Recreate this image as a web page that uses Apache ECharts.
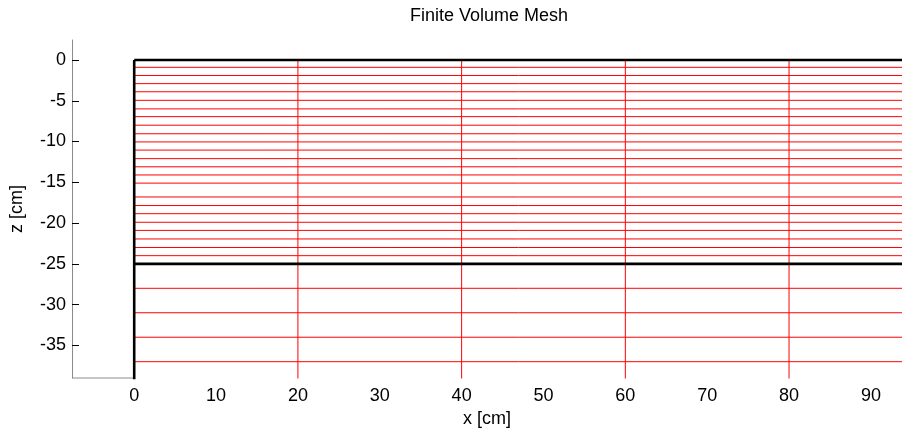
<!DOCTYPE html>
<html>
<head>
<meta charset="utf-8">
<title>Finite Volume Mesh</title>
<script src="https://cdn.jsdelivr.net/npm/echarts@6/dist/echarts.min.js"></script>
<style>
  html, body { margin: 0; padding: 0; background: #fff; }
  #chart { width: 902px; height: 437px; }
</style>
</head>
<body>
<div id="chart"></div>
<script>
// Axis tick labels
const xTickValues = [0, 10, 20, 30, 40, 50, 60, 70, 80, 90];
const zTickValues = [0, -5, -10, -15, -20, -25, -30, -35];

// Visible axis window [cm]
const xRange = [-7.6, 93.8];
const zRange = [-39, 2.45];

// Mesh geometry [cm]
const xFaces = [0, 20, 40, 60, 80, 100];          // vertical cell faces
const zFineFaces = [-0.9, -1.9, -2.9, -3.9, -4.95, -6.0, -6.95, -8.0, -9.05,
  -10.05, -11.05, -12.1, -13.1, -14.1, -15.1, -16.8, -17.85, -18.85, -19.9,
  -20.9, -21.95, -23.0, -24.0];                     // upper layer faces
const zCoarseFaces = [-28, -31, -34, -37];         // lower layer faces
const zLayerBounds = [0, -25];                     // layer boundaries
const domainRight = 100;
const domainBottom = -40;

const FONT = "'Liberation Sans', Arial, sans-serif";
const FS = 18;

function seg(data, color, width, extra) {
  return Object.assign({
    type: 'line', data: data, showSymbol: false, symbol: 'none', silent: true,
    animation: false, lineStyle: { color: color, width: width }, z: 2
  }, extra || {});
}

const series = [];
// thin red faces
zFineFaces.concat(zCoarseFaces).forEach(z => {
  series.push(seg([[0, z], [domainRight, z]], '#ff0000', 1));
});
xFaces.filter(x => x !== 0).forEach(x => {
  series.push(seg([[x, 0], [x, domainBottom]], '#ff0000', 1));
});
// thick black boundaries
zLayerBounds.forEach(z => {
  series.push(seg([[0, z], [domainRight, z]], '#000000', 2.6, { z: 3 }));
});
series.push(seg([[0, 0], [0, domainBottom]], '#000000', 2.6, { z: 3 }));
// bottom axis line left of the domain
series.push(seg([[xRange[0], zRange[0]], [0, zRange[0]]], '#8c8c8c', 1, { clip: false, z: 1 }));

const chart = echarts.init(document.getElementById('chart'), null, { renderer: 'canvas' });
chart.setOption({
  animation: false,
  backgroundColor: '#ffffff',
  textStyle: { fontFamily: FONT },
  graphic: [{
    type: 'text', x: 489, y: 7,
    style: { text: 'Finite Volume Mesh', font: FS + 'px ' + FONT, fill: '#000', textAlign: 'center' }
  }],
  grid: { left: 71, top: 40, right: 0, bottom: 59, containLabel: false },
  xAxis: {
    type: 'value', min: xRange[0], max: xRange[1],
    name: 'x [cm]', nameLocation: 'middle', nameGap: 29,
    nameTextStyle: { fontSize: FS, color: '#000', fontFamily: FONT },
    axisLine: { show: false, onZero: false },
    axisTick: { show: false },
    splitLine: { show: false },
    axisLabel: { customValues: xTickValues, margin: 9, fontSize: FS, color: '#000', fontFamily: FONT }
  },
  yAxis: {
    type: 'value', min: zRange[0], max: zRange[1],
    name: 'z [cm]', nameLocation: 'middle', nameGap: 46, nameRotate: 90,
    nameTextStyle: { fontSize: FS, color: '#000', fontFamily: FONT },
    axisLine: { show: true, onZero: false, lineStyle: { color: '#8c8c8c', width: 1 } },
    axisTick: { show: true, inside: true, length: 7, customValues: zTickValues, lineStyle: { color: '#000' } },
    splitLine: { show: false },
    axisLabel: { customValues: zTickValues, margin: 6, fontSize: FS, color: '#000', fontFamily: FONT }
  },
  series: series
});
</script>
</body>
</html>
